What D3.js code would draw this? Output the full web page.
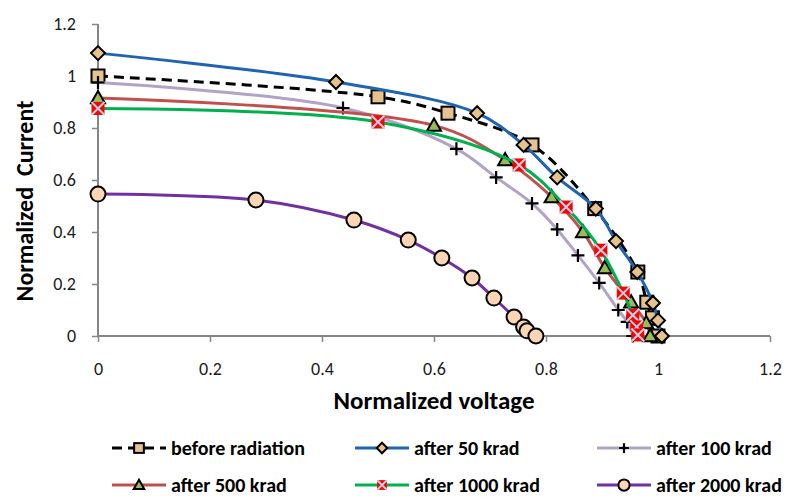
<!DOCTYPE html>
<html><head><meta charset="utf-8">
<script src="https://cdn.jsdelivr.net/npm/d3@7"></script>
<style>body{margin:0;background:#fff}svg{display:block}</style>
</head><body>
<svg id="c" width="792" height="497"></svg>
<script>
const xTicks = [0, 0.2, 0.4, 0.6, 0.8, 1, 1.2];
const yTicks = [0, 0.2, 0.4, 0.6, 0.8, 1, 1.2];
const seriesNames = ["before radiation", "after 50 krad", "after 100 krad", "after 500 krad", "after 1000 krad", "after 2000 krad"];
const vBefore = [0, 0.5, 0.625, 0.775, 0.887, 0.964, 0.98, 0.99, 1.0];
const iBefore = [1.0, 0.92, 0.857, 0.735, 0.49, 0.246, 0.13, 0.07, 0.0];
const v50 = [0, 0.425, 0.677, 0.76, 0.82, 0.889, 0.925, 0.963, 0.991, 1.0, 1.007];
const i50 = [1.088, 0.977, 0.857, 0.735, 0.61, 0.49, 0.365, 0.246, 0.127, 0.06, 0.0];
const v100 = [0, 0.4375, 0.64, 0.711, 0.775, 0.82, 0.857, 0.895, 0.929, 0.945, 0.955];
const i100 = [0.975, 0.877, 0.72, 0.61, 0.51, 0.41, 0.31, 0.204, 0.1, 0.054, 0.0];
const v500 = [0, 0.6, 0.727, 0.81, 0.866, 0.905, 0.952, 0.979, 0.986];
const i500 = [0.915, 0.81, 0.677, 0.535, 0.40, 0.262, 0.13, 0.05, 0.0];
const v1000 = [0, 0.5, 0.752, 0.836, 0.898, 0.938, 0.955, 0.962, 0.964];
const i1000 = [0.875, 0.823, 0.658, 0.496, 0.33, 0.165, 0.08, 0.035, 0.004];
const v2000 = [0, 0.282, 0.457, 0.554, 0.614, 0.668, 0.707, 0.743, 0.76, 0.766, 0.782];
const i2000 = [0.546, 0.523, 0.446, 0.369, 0.3, 0.223, 0.146, 0.073, 0.035, 0.02, 0.0];

const series = [
  {name: seriesNames[0], v: vBefore, i: iBefore, color: "#000", dash: "10,6", marker: "square"},
  {name: seriesNames[1], v: v50, i: i50, color: "#1f64b0", dash: null, marker: "diamond"},
  {name: seriesNames[2], v: v100, i: i100, color: "#b3a2c7", dash: null, marker: "plus"},
  {name: seriesNames[3], v: v500, i: i500, color: "#c0504d", dash: null, marker: "triangle"},
  {name: seriesNames[4], v: v1000, i: i1000, color: "#00b050", dash: null, marker: "xsquare"},
  {name: seriesNames[5], v: v2000, i: i2000, color: "#7030a0", dash: null, marker: "circle"}
];

const svg = d3.select("#c");
const x = d3.scaleLinear().domain([0, 1.2]).range([98, 770]);
const y = d3.scaleLinear().domain([0, 1.2]).range([336, 24]);
const font = "Calibri, Carlito, Lato, 'Open Sans', sans-serif";
const axisColor = "#868686";

// axes
const xAxis = svg.append("g").attr("transform", "translate(0,336)")
  .call(d3.axisBottom(x).tickValues(xTicks).tickSize(6).tickPadding(20).tickFormat(d3.format("")));
const yAxis = svg.append("g").attr("transform", "translate(98,0)")
  .call(d3.axisLeft(y).tickValues(yTicks).tickSize(6).tickPadding(16).tickFormat(d3.format("")));
[xAxis, yAxis].forEach(a => {
  a.select(".domain").attr("stroke", axisColor).attr("stroke-width", 2);
  a.selectAll(".tick line").attr("stroke", axisColor).attr("stroke-width", 1.5);
  a.selectAll(".tick text").attr("fill", "#1a1a1a").style("font-family", font).style("font-size", "18px");
});
xAxis.select(".domain").attr("d", `M98,0H770`);
yAxis.select(".domain").attr("d", `M0,336V24`);

svg.append("text").attr("x", 434).attr("y", 409).attr("text-anchor", "middle")
  .style("font-family", font).style("font-weight", "bold").style("font-size", "25px").text("Normalized voltage");
svg.append("text").attr("transform", "translate(33,201) rotate(-90)").attr("text-anchor", "middle")
  .style("font-family", font).style("font-weight", "bold").style("font-size", "24px")
  .attr("xml:space", "preserve").style("white-space", "pre").text("Normalized  Current");

function drawMarker(g, type, cx, cy, scale) {
  const s = scale || 1;
  if (type === "square") {
    const h = 6.5 * s;
    g.append("rect").attr("x", cx - h).attr("y", cy - h).attr("width", 2 * h).attr("height", 2 * h)
      .attr("fill", "#e6c38c").attr("stroke", "#000").attr("stroke-width", 2);
  } else if (type === "diamond") {
    const h = 7 * s;
    g.append("path").attr("d", `M${cx},${cy - h}L${cx + h},${cy}L${cx},${cy + h}L${cx - h},${cy}Z`)
      .attr("fill", "#e6c38c").attr("stroke", "#000").attr("stroke-width", 2);
  } else if (type === "plus") {
    const h = 6.5 * s;
    g.append("path").attr("d", `M${cx - h},${cy}H${cx + h}M${cx},${cy - h}V${cy + h}`)
      .attr("stroke", "#000").attr("stroke-width", 2.2).attr("fill", "none");
  } else if (type === "triangle") {
    const h = 7 * s;
    g.append("path").attr("d", `M${cx},${cy - h}L${cx + h},${cy + h * 0.75}L${cx - h},${cy + h * 0.75}Z`)
      .attr("fill", "#9bbb59").attr("stroke", "#000").attr("stroke-width", 2);
  } else if (type === "xsquare") {
    const h = 6.5 * s;
    g.append("rect").attr("x", cx - h).attr("y", cy - h).attr("width", 2 * h).attr("height", 2 * h)
      .attr("fill", "#ff0000");
    g.append("path").attr("d", `M${cx - h},${cy - h}L${cx + h},${cy + h}M${cx + h},${cy - h}L${cx - h},${cy + h}`)
      .attr("stroke", "#b7d7e8").attr("stroke-width", 2);
  } else if (type === "circle") {
    g.append("circle").attr("cx", cx).attr("cy", cy).attr("r", 7.5 * s)
      .attr("fill", "#fcd5b4").attr("stroke", "#000").attr("stroke-width", 2);
  }
}

const line = d3.line().x(d => x(d[0])).y(d => y(d[1])).curve(d3.curveCatmullRom.alpha(0.5));
series.forEach(s => {
  const pts = s.v.map((v, k) => [v, s.i[k]]);
  const g = svg.append("g");
  g.append("path").attr("d", line(pts)).attr("fill", "none").attr("stroke", s.color)
    .attr("stroke-width", 3).attr("stroke-dasharray", s.dash);
  pts.forEach(p => drawMarker(g, s.marker, x(p[0]), y(p[1])));
});

// legend
const legX = [112, 355, 597];
const legY = [448, 485];
series.forEach((s, k) => {
  const lx = legX[k % 3], ly = legY[Math.floor(k / 3)];
  const g = svg.append("g");
  g.append("line").attr("x1", lx).attr("x2", lx + 54).attr("y1", ly).attr("y2", ly)
    .attr("stroke", s.color).attr("stroke-width", 3).attr("stroke-dasharray", s.dash);
  drawMarker(g, s.marker, lx + 27, ly, 0.75);
  g.append("text").attr("x", lx + 59).attr("y", ly + 6.5)
    .style("font-family", font).style("font-weight", "bold").style("font-size", "20px").text(s.name);
});
</script>
</body></html>
